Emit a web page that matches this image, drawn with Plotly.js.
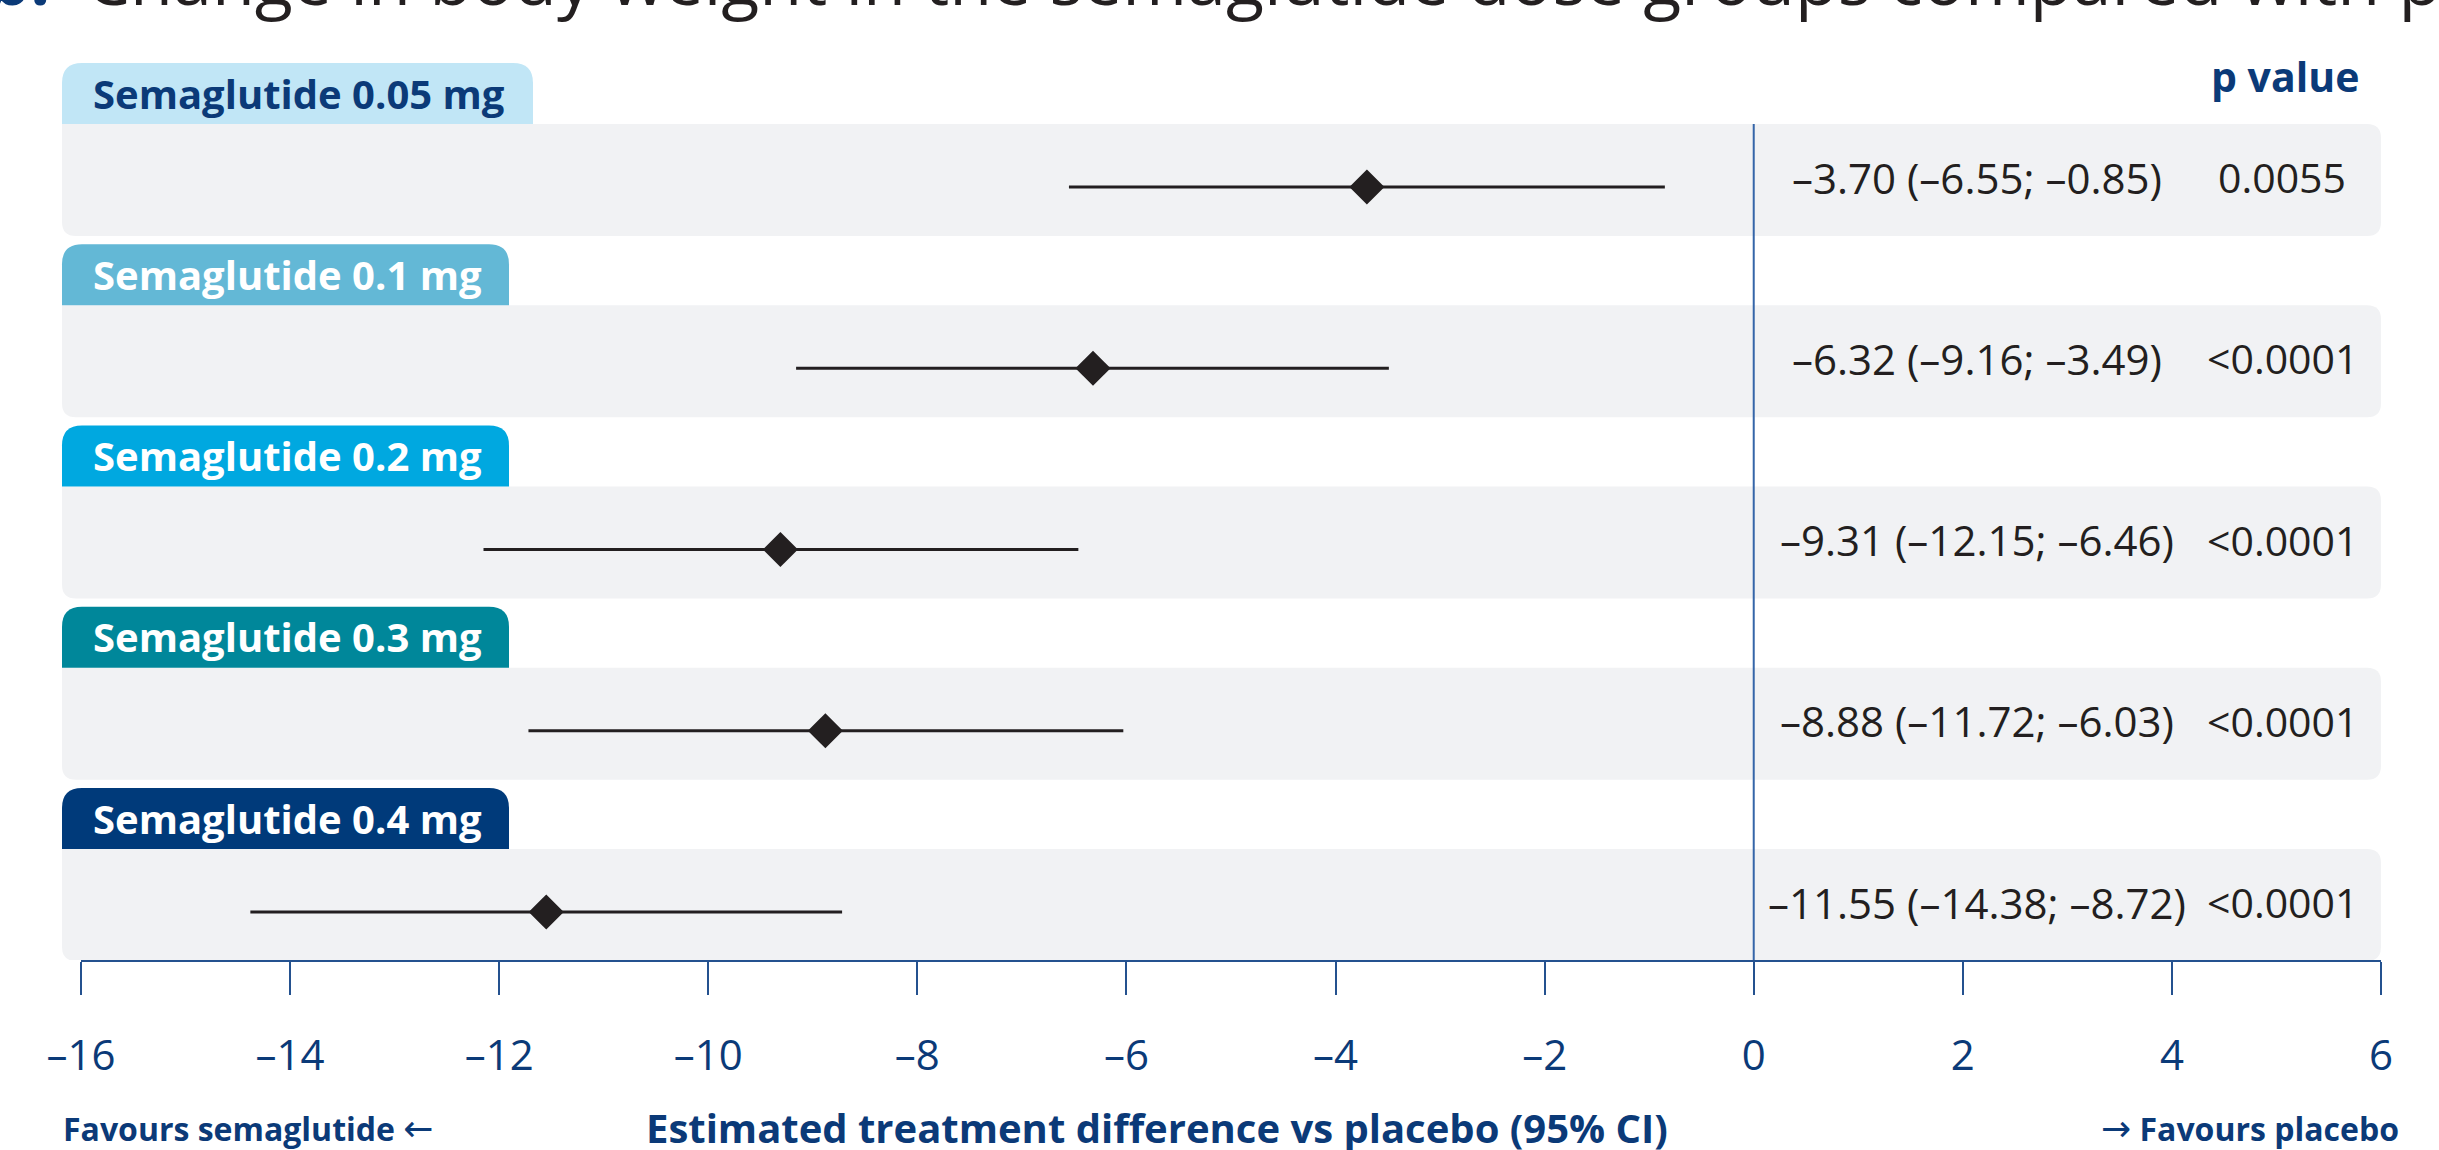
<!DOCTYPE html>
<html><head><meta charset="utf-8">
<script src="https://cdn.plot.ly/plotly-3.0.1.min.js"></script>
<style>html,body{margin:0;padding:0;background:#fff;overflow:hidden}#chart{width:2439px;height:1150px}</style>
</head><body><div id="chart"></div>
<script>
// ---- data ----
const doseLabels = ["Semaglutide 0.05 mg","Semaglutide 0.1 mg","Semaglutide 0.2 mg","Semaglutide 0.3 mg","Semaglutide 0.4 mg"];
const estimate = [-3.70, -6.32, -9.31, -8.88, -11.55];
const ciLower = [-6.55, -9.16, -12.15, -11.72, -14.38];
const ciUpper = [-0.85, -3.49, -6.46, -6.03, -8.72];
const pValues = ["0.0055", "<0.0001", "<0.0001", "<0.0001", "<0.0001"];
const xTickVals = [-16, -14, -12, -10, -8, -6, -4, -2, 0, 2, 4, 6];
const xTickText = ["–16", "–14", "–12", "–10", "–8", "–6", "–4", "–2", "0", "2", "4", "6"];
const titleText = "Change in body weight in the semaglutide dose groups compared with placebo";
const axisTitle = "Estimated treatment difference vs placebo (95% CI)";
const leftNote = "Favours semaglutide";
const rightNote = "Favours placebo";

// ---- layout constants ----
const W = 2439, H = 1150, ML = 81, MR = 58, MT = 0, MB = 190;
const PW = W - ML - MR, PH = H - MT - MB;
const ROW0 = 187, STEP = 181.25;
const FONT = "Open Sans, Noto Sans, sans-serif";
const ARROWFONT = "DejaVu Sans, sans-serif";
const NAVY = "#0b3a78", DARK = "#231f20", AXIS = "#24518f", PANEL = "#f1f2f4";
const tabFill = ["#c1e6f6", "#63b8d6", "#00a8e0", "#00879a", "#003a7a"];
const tabText = [NAVY, "#ffffff", "#ffffff", "#ffffff", "#ffffff"];
const tabRight = [533, 509, 509, 509, 509];
const xp = px => (px - ML) / PW;          // pixel -> paper x
const yo = px => px / STEP;                // pixel offset -> y units
const ypPaper = px => (PH - (px - MT)) / PH; // pixel -> paper y

const fmt = v => (v < 0 ? "\u2013" : "") + Math.abs(v).toFixed(2);
const esc = s => s.replace(/&/g, "&amp;").replace(/</g, "&lt;").replace(/>/g, "&gt;");

const traces = [];
doseLabels.forEach((d, i) => {
  traces.push({x: [ciLower[i], ciUpper[i]], y: [i, i], type: "scatter", mode: "lines",
    line: {color: DARK, width: 3}, hoverinfo: "skip", showlegend: false});
});
traces.push({x: estimate, y: doseLabels.map((d, i) => i), type: "scatter", mode: "markers",
  marker: {symbol: "diamond", size: 27, color: DARK, line: {width: 0}}, showlegend: false, hoverinfo: "skip"});

const shapes = [];
const annotations = [];
doseLabels.forEach((d, i) => {
  const x0 = xp(62), x1 = xp(2381);
  const yt = i + yo(-63), yb = i + yo(49);
  const rx = 14 / PW, ry = yo(14);
  shapes.push({type: "path", xref: "paper", yref: "y", layer: "below", fillcolor: PANEL, line: {width: 0},
    path: `M${x0},${yt} L${x1 - rx},${yt} Q${x1},${yt} ${x1},${yt + ry} L${x1},${yb - ry} Q${x1},${yb} ${x1 - rx},${yb} L${x0 + rx},${yb} Q${x0},${yb} ${x0},${yb - ry} Z`});
  const tx1 = xp(tabRight[i]);
  const tt = i + yo(-124), tb = i + yo(-63);
  const trx = 20 / PW, trY = yo(20);
  shapes.push({type: "path", xref: "paper", yref: "y", layer: "below", fillcolor: tabFill[i], line: {width: 0},
    path: `M${x0},${tb} L${x0},${tt + trY} Q${x0},${tt} ${x0 + trx},${tt} L${tx1 - trx},${tt} Q${tx1},${tt} ${tx1},${tt + trY} L${tx1},${tb} Z`});
  annotations.push({xref: "paper", yref: "y", x: xp(91), y: i + yo(-94), xanchor: "left", yanchor: "middle",
    text: "<b>" + d + "</b>", showarrow: false, font: {family: FONT, size: 40, color: tabText[i]}});
  annotations.push({xref: "paper", yref: "y", x: xp(1977), y: i + yo(-10), xanchor: "center", yanchor: "middle",
    text: `${fmt(estimate[i])} (${fmt(ciLower[i])}; ${fmt(ciUpper[i])})`, showarrow: false,
    font: {family: FONT, size: 42, color: DARK}});
  annotations.push({xref: "paper", yref: "y", x: xp(2282), y: i + yo(-10), xanchor: "center", yanchor: "middle",
    text: esc(pValues[i]), showarrow: false, font: {family: FONT, size: 41, color: DARK}});
});
// zero reference line
shapes.push({type: "line", xref: "x", yref: "y", x0: 0, x1: 0, y0: yo(124 - ROW0), y1: yo(PH - ROW0),
  line: {color: "#3565a8", width: 2}, layer: "above"});

annotations.push({xref: "paper", yref: "y", x: xp(2285), y: yo(76 - ROW0), xanchor: "center", yanchor: "middle",
  text: "<b>p value</b>", showarrow: false, font: {family: FONT, size: 41, color: NAVY}});
annotations.push({xref: "paper", yref: "paper", x: xp(62), y: ypPaper(1128), xanchor: "left", yanchor: "middle",
  text: "<b>" + leftNote + "</b> <span style=\"font-family:" + ARROWFONT + ";font-size:36px\">←</span>",
  showarrow: false, borderpad: 0, font: {family: FONT, size: 32, color: NAVY}});
annotations.push({xref: "paper", yref: "paper", x: xp(1157), y: ypPaper(1127), xanchor: "center", yanchor: "middle",
  text: "<b>" + axisTitle + "</b>", showarrow: false, borderpad: 0, font: {family: FONT, size: 40, color: NAVY}});
annotations.push({xref: "paper", yref: "paper", x: xp(2400), y: ypPaper(1128), xanchor: "right", yanchor: "middle",
  text: "<span style=\"font-family:" + ARROWFONT + ";font-size:36px\">→</span> <b>" + rightNote + "</b>",
  showarrow: false, borderpad: 0, font: {family: FONT, size: 32, color: NAVY}});
// clipped figure heading at the very top
annotations.push({xref: "paper", yref: "paper", x: xp(52), y: ypPaper(-22), xanchor: "right", yanchor: "middle",
  text: "<b>b:</b>", showarrow: false, font: {family: FONT, size: 70, color: NAVY}});
annotations.push({xref: "paper", yref: "paper", x: xp(84), y: ypPaper(-22), xanchor: "left", yanchor: "middle",
  text: titleText, showarrow: false, font: {family: FONT, size: 70, color: DARK}});

const layout = {
  width: W, height: H, margin: {l: ML, r: MR, t: MT, b: MB, pad: 0},
  paper_bgcolor: "#ffffff", plot_bgcolor: "rgba(0,0,0,0)",
  showlegend: false, hovermode: false,
  xaxis: {range: [-16, 6], tickmode: "array", tickvals: xTickVals, ticktext: xTickText,
    showgrid: false, zeroline: false, showline: true, linecolor: AXIS, linewidth: 2,
    ticks: "outside", ticklen: 33, tickwidth: 2, tickcolor: AXIS, ticklabelstandoff: 25,
    tickfont: {family: FONT, size: 42, color: NAVY}, fixedrange: true},
  yaxis: {range: [(PH - ROW0) / STEP, -ROW0 / STEP], visible: false, showgrid: false, zeroline: false, fixedrange: true},
  shapes: shapes, annotations: annotations
};
Plotly.newPlot("chart", traces, layout, {staticPlot: true, displayModeBar: false});
</script></body></html>
